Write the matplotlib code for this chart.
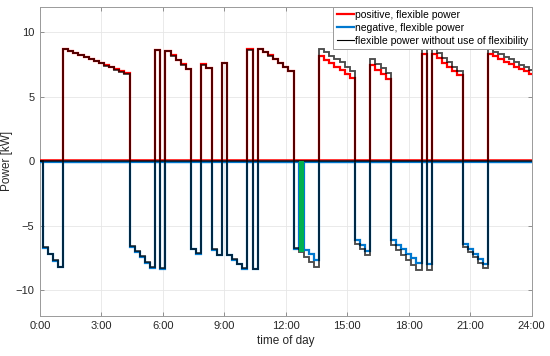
import matplotlib
matplotlib.use("Agg")
import matplotlib.pyplot as plt
from matplotlib.transforms import offset_copy
from matplotlib.lines import Line2D

plt.rcParams["font.family"] = ["Liberation Sans", "DejaVu Sans"]

STEP = 0.25  # 15 min Auflösung

# ---- positive Leistung: Blockbeginn [h] und Stufenwerte [kW] ----
pos_start = [1.125, 5.625, 6.125, 7.875, 8.875, 10.125, 10.625,
             13.625, 16.125, 18.625, 19.125, 21.875]
pos_ref = [  # schwarz: ohne Flexibilitätsnutzung
    [8.70, 8.54, 8.38, 8.23, 8.07, 7.91, 7.75, 7.59, 7.43, 7.28, 7.12, 6.96, 6.80],
    [8.60],
    [8.55, 8.20, 7.85, 7.50, 7.15],
    [7.50, 7.20],
    [7.60],
    [8.65],
    [8.70, 8.45, 8.20, 7.90, 7.60, 7.30, 7.00],
    [8.70, 8.45, 8.20, 7.95, 7.70, 7.35, 7.00],
    [7.90, 7.55, 7.20, 6.85],
    [8.75],
    [8.75, 8.40, 8.05, 7.70, 7.35, 7.00],
    [8.70, 8.50, 8.30, 8.10, 7.90, 7.70, 7.50, 7.30, 7.10],
]
pos_flex = [  # rot
    [8.70, 8.54, 8.38, 8.23, 8.07, 7.91, 7.75, 7.59, 7.43, 7.28, 7.12, 6.96, 6.80],
    [8.60],
    [8.55, 8.20, 7.85, 7.50, 7.15],
    [7.50, 7.20],
    [7.60],
    [8.65],
    [8.70, 8.45, 8.20, 7.90, 7.60, 7.30, 7.00],
    [8.10, 7.85, 7.60, 7.30, 7.05, 6.75, 6.45],
    [7.40, 7.05, 6.70, 6.35],
    [8.30],
    [8.30, 7.95, 7.60, 7.30, 6.95, 6.65],
    [8.30, 8.10, 7.90, 7.70, 7.50, 7.30, 7.10, 6.95, 6.75],
]

# ---- negative Leistung ----
neg_start = [0.125, 4.375, 5.875, 7.375, 8.375, 9.125, 10.375,
             12.375, 15.375, 17.125, 18.875, 20.625]
neg_ref = [
    [-6.70, -7.20, -7.70, -8.20],
    [-6.60, -7.00, -7.40, -7.85, -8.25],
    [-8.30],
    [-6.80, -7.15],
    [-6.85, -7.25],
    [-7.25, -7.60, -7.95, -8.30],
    [-8.35],
    [-6.75, -7.05, -7.45, -7.85, -8.25],
    [-6.45, -6.85, -7.30],
    [-6.50, -6.90, -7.30, -7.65, -8.05, -8.45],
    [-8.45],
    [-6.65, -7.05, -7.45, -7.90, -8.30],
]
neg_flex = [  # blau
    [-6.70, -7.20, -7.70, -8.20],
    [-6.60, -7.00, -7.40, -7.85, -8.25],
    [-8.30],
    [-6.80, -7.15],
    [-6.85, -7.25],
    [-7.25, -7.60, -7.95, -8.30],
    [-8.35],
    [-6.75, 0.00, -6.85, -7.20, -7.60],
    [-6.10, -6.50, -6.90],
    [-6.10, -6.45, -6.80, -7.15, -7.50, -7.90],
    [-7.95],
    [-6.40, -6.80, -7.20, -7.55, -7.95],
]

# genutzte Flexibilität (grüner Balken)
green_start = [12.625]
green_val = [-7.05]

xticks = list(range(0, 25, 3))
xtick_labels = ["%d:00" % h for h in xticks]
yticks = [-10, -5, 0, 5, 10]


def to_stairs(starts, blocks):
    """Blöcke -> (Werte, Kanten) für ax.stairs, Lücken mit 0 gefüllt."""
    edges, vals = [0.0], []
    for s, b in zip(starts, blocks):
        if s > edges[-1]:
            vals.append(0.0)
            edges.append(s)
        for v in b:
            vals.append(v)
            edges.append(edges[-1] + STEP)
    if edges[-1] < 24:
        vals.append(0.0)
        edges.append(24.0)
    return vals, edges


RED = "#FF0000"
BLUE = "#0078CF"
GREEN = "#00B050"
GRAY = "#262626"

fig = plt.figure(figsize=(5.5, 3.56), dpi=100)
ax = fig.add_axes([0.0727, 0.1132, 0.894, 0.868])

up = offset_copy(ax.transData, x=0, y=0.5, units="dots")
down = offset_copy(ax.transData, x=0, y=-0.5, units="dots")
up_h = offset_copy(ax.get_yaxis_transform(), x=0, y=1.1, units="dots")
down_h = offset_copy(ax.get_yaxis_transform(), x=0, y=-0.4, units="dots")

v, e = to_stairs(pos_start, pos_flex)
ax.stairs(v, e, baseline=None, color=RED, lw=1.6, transform=up, zorder=3)
v, e = to_stairs(neg_start, neg_flex)
ax.stairs(v, e, baseline=None, color=BLUE, lw=1.6, transform=down, zorder=3)

# Nulllinien beider Reihen (rot schmal oben, blau darunter)
ax.plot([0, 1], [0, 0], color=RED, lw=1.1, transform=up_h, zorder=3.2)
ax.plot([0, 1], [0, 0], color=BLUE, lw=1.6, transform=down_h, zorder=3.4)

# schwarz halbtransparent -> dunkelrot / dunkelblau bei Überdeckung
v, e = to_stairs(pos_start, pos_ref)
ax.stairs(v, e, baseline=None, color="black", lw=1.35, alpha=0.7, zorder=4)
v, e = to_stairs(neg_start, neg_ref)
ax.stairs(v, e, baseline=None, color="black", lw=1.35, alpha=0.7, zorder=4)

ax.bar(green_start, green_val, width=STEP, align="edge", color=GREEN,
       lw=0, zorder=5)

ax.set_xlim(0, 24)
ax.set_ylim(-12, 12)
ax.set_xticks(xticks)
ax.set_xticklabels(xtick_labels)
ax.set_yticks(yticks)
ax.tick_params(direction="in", length=3, width=0.6, color="#808080",
               labelcolor=GRAY, labelsize=8, top=True, right=True, pad=4)
ax.grid(True, color="#E6E6E6", lw=0.6, zorder=0)
ax.set_axisbelow(True)
for s in ax.spines.values():
    s.set_color("#9A9A9A")
    s.set_linewidth(0.7)

ax.set_xlabel("time of day", fontsize=8.5, color=GRAY, labelpad=3)
ax.set_ylabel("Power [kW]", fontsize=8.5, color=GRAY, labelpad=2)

handles = [Line2D([], [], color=RED, lw=1.6),
           Line2D([], [], color=BLUE, lw=1.6),
           Line2D([], [], color="black", lw=0.8)]
labels = ["positive, flexible power", "negative, flexible power",
          "flexible power without use of flexibility"]
leg = ax.legend(handles, labels, loc="upper right", fontsize=7.5,
                frameon=True, fancybox=False, framealpha=1,
                borderaxespad=0, borderpad=0.3, handlelength=1.7,
                handletextpad=0.1, labelspacing=0.28)
leg.get_frame().set_edgecolor("#9A9A9A")
leg.get_frame().set_linewidth(0.7)
leg.set_zorder(10)

fig.savefig("out.png", dpi=100)
